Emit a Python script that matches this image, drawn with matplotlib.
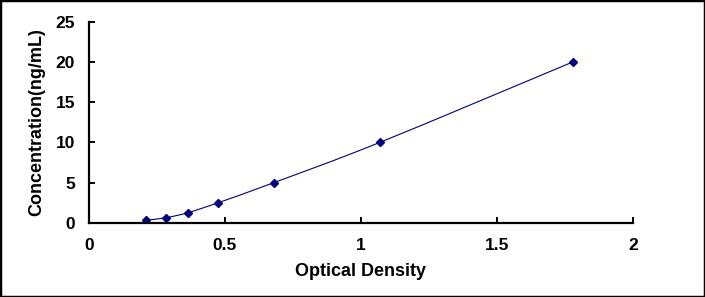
import numpy as np
import matplotlib
matplotlib.use("Agg")
import matplotlib.pyplot as plt
from matplotlib.path import Path
from matplotlib.patches import PathPatch, Rectangle

# standard curve readings
od = [0.21, 0.283, 0.364, 0.476, 0.681, 1.07, 1.779]
conc = [0.312, 0.625, 1.25, 2.5, 5, 10, 20]

x_ticks = [0, 0.5, 1, 1.5, 2]
x_tick_labels = ["0", "0.5", "1", "1.5", "2"]
y_ticks = [0, 5, 10, 15, 20, 25]

navy = "#000080"

plt.rcParams['font.family'] = ['Liberation Sans', 'DejaVu Sans']
plt.rcParams['font.weight'] = 'bold'

fig = plt.figure(figsize=(7.05, 2.97), dpi=100)
ax = fig.add_axes([0.126, 0.250, 0.772, 0.677])

# smoothed line (Excel style: cubic bezier, Catmull-Rom control points)
pts = np.column_stack([od, conc])
verts = [pts[0]]
codes = [Path.MOVETO]
for i in range(len(pts) - 1):
    p0 = pts[i - 1] if i > 0 else pts[i]
    p1 = pts[i]
    p2 = pts[i + 1]
    p3 = pts[i + 2] if i + 2 < len(pts) else pts[i + 1]
    c1 = p1 + (p2 - p0) / 6.0
    c2 = p2 - (p3 - p1) / 6.0
    verts += [c1, c2, p2]
    codes += [Path.CURVE4] * 3
ax.add_patch(PathPatch(Path(verts, codes), facecolor='none', edgecolor=navy, lw=0.8))

ax.plot(od, conc, linestyle='none', marker='D', markersize=4.5, color=navy)

ax.set_xlim(0, 2)
ax.set_ylim(0, 25)
ax.set_xticks(x_ticks)
ax.set_xticklabels(x_tick_labels)
ax.set_yticks(y_ticks)

for s in ['top', 'right']:
    ax.spines[s].set_visible(False)
for s in ['left', 'bottom']:
    ax.spines[s].set_linewidth(1.6)

ax.tick_params(direction='in', length=4, width=1.4, labelsize=12.5)
ax.tick_params(axis='x', pad=11)
ax.tick_params(axis='y', pad=10)
for lab in ax.get_xticklabels() + ax.get_yticklabels():
    lab.set_fontweight('bold')

ax.set_xlabel('Optical Density', fontsize=13, fontweight='bold', labelpad=7)
ax.set_ylabel('Concentration(ng/mL)', fontsize=13, fontweight='bold', labelpad=7)

# outer frame of the picture
fig.patches.append(Rectangle((0, 0), 1, 1, transform=fig.transFigure,
                             fill=False, edgecolor='black', lw=2.5))

fig.savefig('out.png', dpi=100)
